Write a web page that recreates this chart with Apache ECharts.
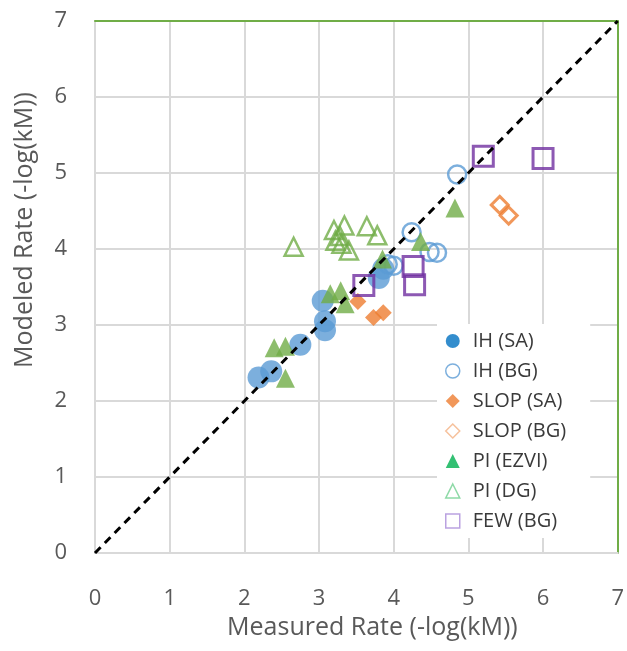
<!DOCTYPE html>
<html><head><meta charset="utf-8">
<script src="https://cdn.jsdelivr.net/npm/echarts@6/dist/echarts.min.js"></script>
<style>html,body{margin:0;padding:0;background:#fff}#c{width:627px;height:651px}</style>
</head><body><div id="c"></div>
<script>
const ihSA = [[2.19,2.31],[2.36,2.39],[2.75,2.74],[3.08,2.93],[3.08,3.05],[3.05,3.32],[3.8,3.62],[3.86,3.74]];
const ihBG = [[4.85,4.98],[4.24,4.22],[4.0,3.78],[3.92,3.8],[4.48,3.96],[4.58,3.95]];
const slopSA = [[3.52,3.31],[3.73,3.1],[3.86,3.16]];
const slopBG = [[5.42,4.58],[5.54,4.44]];
const piEZVI = [[2.4,2.7],[2.55,2.72],[2.55,2.3],[3.15,3.41],[3.29,3.45],[3.35,3.28],[3.85,3.87],[4.36,4.1],[4.82,4.54]];
const piDG = [[2.66,4.03],[3.2,4.25],[3.34,4.31],[3.22,4.11],[3.3,4.07],[3.4,3.98],[3.28,4.17],[3.64,4.3],[3.78,4.18]];
const fewBG = [[5.2,5.22],[6.0,5.19],[3.6,3.52],[4.26,3.77],[4.28,3.53]];
const refLine = [[0,0],[7,7]];
const ticks = [0,1,2,3,4,5,6,7];

const FONT = '"Open Sans", "Liberation Sans", sans-serif';
const chart = echarts.init(document.getElementById('c'), null, {renderer:'canvas'});
const blue='#5B9BD5', orange='#ED7D31', green='#70AD47', purple='#7030A0';
function open(c){return {color:'rgba(255,255,255,0)', borderColor:c, borderWidth:2.5};}
chart.setOption({
  animation:false,
  grid:{left:95, right:5, top:21, bottom:98},
  xAxis:[{type:'value', min:0, max:7, interval:1,
    name:'Measured Rate (-log(kM))', nameLocation:'middle', nameGap:60,
    nameTextStyle:{fontSize:25, color:'#595959', fontFamily:FONT, padding:[0,0,0,32]},
    axisLabel:{fontSize:22, color:'#595959', fontFamily:FONT, margin:35, formatter:v=>String(ticks[v])},
    axisLine:{show:true, onZero:false, lineStyle:{color:'#D9D9D9', width:2}}, axisTick:{show:false},
    splitLine:{lineStyle:{color:'#D9D9D9', width:2}}},
   {type:'value', position:'top', min:0, max:7, axisLabel:{show:false}, axisTick:{show:false},
    splitLine:{show:false}, axisLine:{show:true, onZero:false, lineStyle:{color:'#70AD47', width:2}}}],
  yAxis:[{type:'value', min:0, max:7, interval:1,
    name:'Modeled Rate (-log(kM))', nameLocation:'middle', nameGap:58,
    nameTextStyle:{fontSize:25, color:'#595959', fontFamily:FONT, padding:[0,0,0,114]},
    axisLabel:{fontSize:22, color:'#595959', fontFamily:FONT, margin:28},
    axisLine:{show:true, onZero:false, lineStyle:{color:'#D9D9D9', width:2}}, axisTick:{show:false},
    splitLine:{lineStyle:{color:'#D9D9D9', width:2}}},
   {type:'value', position:'right', min:0, max:7, axisLabel:{show:false}, axisTick:{show:false},
    splitLine:{show:false}, axisLine:{show:true, onZero:false, lineStyle:{color:'#70AD47', width:2}}}],
  legend:{orient:'vertical', left:437, top:324, backgroundColor:'#fff', padding:[7,24,7,8],
    itemWidth:14, itemHeight:14, itemGap:10,
    textStyle:{fontSize:20, color:'#3a3a3a', fontFamily:FONT, lineHeight:20, padding:[0,0,0,8]},
    data:[
      {name:'IH (SA)', icon:'circle', itemStyle:{color:'#0070C0'}},
      {name:'IH (BG)', icon:'circle', itemStyle:{color:'#fff', borderColor:'#5B9BD5', borderWidth:1.5}},
      {name:'SLOP (SA)', icon:'diamond', itemStyle:{color:'#ED7D31'}},
      {name:'SLOP (BG)', icon:'diamond', itemStyle:{color:'#fff', borderColor:'#F4B183', borderWidth:1.5}},
      {name:'PI (EZVI)', icon:'triangle', itemStyle:{color:'#00B050'}},
      {name:'PI (DG)', icon:'triangle', itemStyle:{color:'#fff', borderColor:'#70D090', borderWidth:1.5}},
      {name:'FEW (BG)', icon:'rect', itemStyle:{color:'#fff', borderColor:'#A98BD8', borderWidth:1.5}}
    ]},
  series:[
    {name:'IH (SA)', type:'scatter', data:ihSA, symbol:'circle', symbolSize:22, itemStyle:{color:blue}},
    {name:'IH (BG)', type:'scatter', data:ihBG, symbol:'circle', symbolSize:18, itemStyle:open(blue)},
    {name:'SLOP (SA)', type:'scatter', data:slopSA, symbol:'diamond', symbolSize:17, itemStyle:{color:orange}},
    {name:'SLOP (BG)', type:'scatter', data:slopBG, symbol:'diamond', symbolSize:17, itemStyle:{color:'rgba(255,255,255,0)', borderColor:orange, borderWidth:3}},
    {name:'PI (EZVI)', type:'scatter', data:piEZVI, symbol:'triangle', symbolSize:19, itemStyle:{color:green}},
    {name:'PI (DG)', type:'scatter', data:piDG, symbol:'triangle', symbolSize:18, itemStyle:open(green)},
    {name:'FEW (BG)', type:'scatter', data:fewBG, symbol:'rect', symbolSize:20, itemStyle:{color:'rgba(255,255,255,0)', borderColor:purple, borderWidth:3}},
    {name:'ref', type:'line', data:refLine, symbol:'none', z:10, silent:true,
     lineStyle:{color:'#000', width:3, type:[8,6]}}
  ]
});
</script></body></html>
